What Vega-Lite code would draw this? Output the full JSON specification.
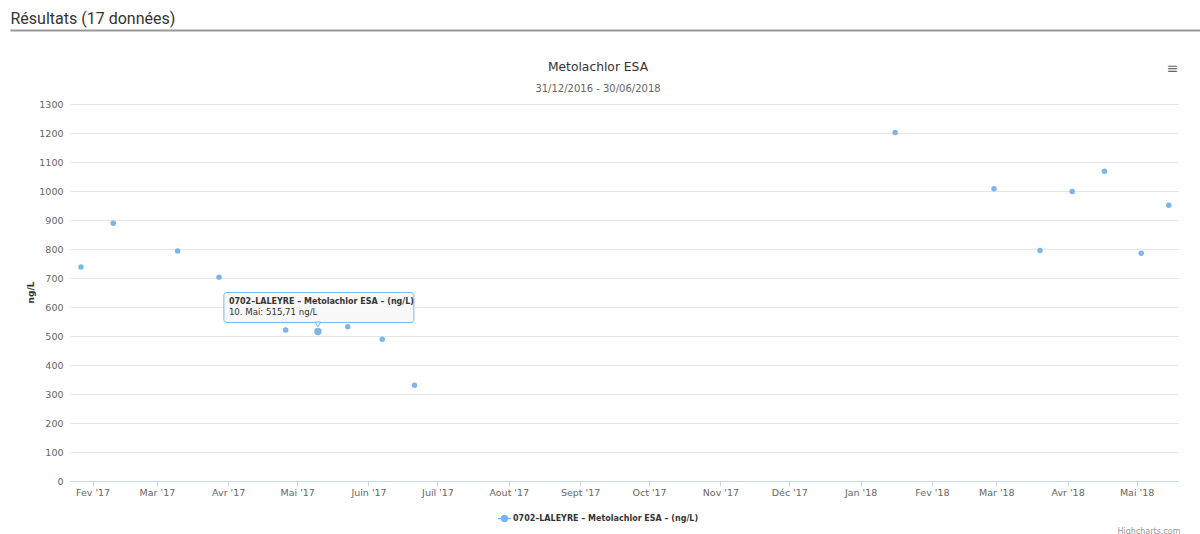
{
  "$schema": "https://vega.github.io/schema/vega-lite/v6.json",
  "width": 1108,
  "height": 377,
  "autosize": {"type": "none"},
  "padding": {"left": 70, "top": 104, "right": 22, "bottom": 53},
  "background": "white",
  "config": {"view": {"stroke": null}, "font": "DejaVu Sans"},
  "title": {
    "text": "Metolachlor ESA",
    "subtitle": "31/12/2016 - 30/06/2018",
    "anchor": "middle",
    "frame": "group",
    "dx": -26,
    "dy": 88,
    "font": "DejaVu Sans",
    "fontSize": 12.3,
    "fontWeight": "normal",
    "color": "#333333",
    "subtitleFont": "DejaVu Sans",
    "subtitleFontSize": 10,
    "subtitleColor": "#666666",
    "subtitlePadding": 11
  },
  "datasets": {
    "pts": [
      {"date": "2017-01-27", "value": 738},
      {"date": "2017-02-10", "value": 889},
      {"date": "2017-03-10", "value": 793},
      {"date": "2017-03-28", "value": 703},
      {"date": "2017-04-12", "value": 600},
      {"date": "2017-04-26", "value": 521},
      {"date": "2017-05-10", "value": 515.71},
      {"date": "2017-05-23", "value": 532},
      {"date": "2017-06-07", "value": 489},
      {"date": "2017-06-21", "value": 330},
      {"date": "2018-01-16", "value": 1202},
      {"date": "2018-02-28", "value": 1008},
      {"date": "2018-03-20", "value": 795},
      {"date": "2018-04-03", "value": 998},
      {"date": "2018-04-17", "value": 1068},
      {"date": "2018-05-03", "value": 785},
      {"date": "2018-05-15", "value": 951}
    ]
  },
  "data": {"name": "pts"},
  "layer": [
    {
      "encoding": {
        "x": {
          "field": "date",
          "type": "temporal",
          "scale": {
            "type": "utc",
            "domain": [
              {"year": 2017, "month": 1, "date": 22, "hours": 5, "utc": true},
              {"year": 2018, "month": 5, "date": 19, "utc": true}
            ]
          },
          "axis": {
            "orient": "bottom",
            "tickCount": {"interval": "month", "step": 1},
            "labelExpr": "['Jan','Fev','Mar','Avr','Mai','Juin','Juil','Aout','Sept','Oct','Nov','Déc'][utcmonth(datum.value)] + \" '\" + utcFormat(datum.value, '%y')",
            "grid": false,
            "domainColor": "#ccd6eb",
            "tickColor": "#ccd6eb",
            "tickSize": 5,
            "labelPadding": 1,
            "labelColor": "#666666",
            "labelFont": "DejaVu Sans",
            "labelFontSize": 9.5,
            "labelFlush": false,
            "labelOverlap": false,
            "title": "Highcharts.com",
            "titleX": 1110,
            "titleY": 50,
            "titleAlign": "right",
            "titleBaseline": "middle",
            "titleFont": "DejaVu Sans",
            "titleFontSize": 8,
            "titleFontWeight": "normal",
            "titleColor": "#999999"
          }
        },
        "y": {
          "field": "value",
          "type": "quantitative",
          "scale": {"domain": [0, 1300], "nice": false, "zero": true},
          "axis": {
            "orient": "left",
            "values": [0, 100, 200, 300, 400, 500, 600, 700, 800, 900, 1000, 1100, 1200, 1300],
            "tickCount": 30,
            "format": "d",
            "labelOverlap": false,
            "grid": true,
            "gridColor": "#e6e6e6",
            "domain": false,
            "ticks": false,
            "labelColor": "#666666",
            "labelFont": "DejaVu Sans",
            "labelFontSize": 9.5,
            "labelPadding": 7,
            "title": "ng/L",
            "titleX": -40,
            "titleY": 188,
            "titleAngle": -90,
            "titleAlign": "center",
            "titleBaseline": "middle",
            "titleFont": "DejaVu Sans",
            "titleFontSize": 9,
            "titleFontWeight": "bold",
            "titleColor": "#333333"
          }
        }
      },
      "layer": [
        {
          "mark": {"type": "circle", "size": 30, "opacity": 1},
          "encoding": {
            "color": {
              "datum": "0702–LALEYRE – Metolachlor ESA – (ng/L)",
              "type": "nominal",
              "scale": {"range": ["#7cb5ec"]},
              "legend": {
                "orient": "none",
                "legendX": 427,
                "legendY": 407,
                "title": null,
                "direction": "horizontal",
                "labelFont": "DejaVu Sans",
                "labelFontSize": 8,
                "labelFontWeight": "bold",
                "labelColor": "#333333",
                "labelOffset": 1,
                "labelLimit": 0,
                "symbolType": "M-1,0L1,0M0.45,0A0.45,0.45,0,1,1,-0.45,0A0.45,0.45,0,1,1,0.45,0Z",
                "symbolSize": 169,
                "symbolStrokeColor": "#7cb5ec",
                "symbolStrokeWidth": 1.5,
                "symbolFillColor": "#7cb5ec"
              }
            }
          }
        },
        {
          "transform": [{"filter": "datum.value == 515.71"}],
          "mark": {"type": "circle", "size": 55, "opacity": 1, "color": "#7cb5ec"}
        },
        {
          "transform": [{"filter": "datum.value == 515.71"}],
          "mark": {
            "type": "rect",
            "xOffset": -94,
            "x2Offset": 96,
            "yOffset": -39,
            "y2Offset": -9,
            "fill": "#f7f7f7",
            "fillOpacity": 0.88,
            "stroke": "#7cb5ec",
            "strokeWidth": 1,
            "cornerRadius": 3
          },
          "encoding": {
            "x2": {"field": "date"},
            "y2": {"field": "value"}
          }
        },
        {
          "transform": [{"filter": "datum.value == 515.71"}],
          "mark": {
            "type": "point",
            "shape": "triangle-down",
            "size": 30,
            "filled": true,
            "fill": "#f7f7f7",
            "stroke": "#7cb5ec",
            "strokeWidth": 1,
            "opacity": 1,
            "yOffset": -7
          }
        },
        {
          "transform": [{"filter": "datum.value == 515.71"}],
          "mark": {
            "type": "text",
            "text": "0702–LALEYRE – Metolachlor ESA – (ng/L)",
            "align": "left",
            "baseline": "alphabetic",
            "dx": -89,
            "dy": -27,
            "font": "DejaVu Sans",
            "fontSize": 8,
            "fontWeight": "bold",
            "color": "#333333"
          }
        },
        {
          "transform": [{"filter": "datum.value == 515.71"}],
          "mark": {
            "type": "text",
            "text": "10. Mai: 515,71 ng/L",
            "align": "left",
            "baseline": "alphabetic",
            "dx": -89,
            "dy": -16,
            "font": "DejaVu Sans",
            "fontSize": 8.6,
            "fontWeight": "normal",
            "color": "#333333"
          }
        }
      ]
    },
    {
      "mark": {"type": "point", "opacity": 0},
      "encoding": {
        "x": {
          "field": "date",
          "type": "temporal",
          "scale": {"type": "utc", "range": [-60, 1130]},
          "axis": {
            "orient": "top",
            "offset": 74,
            "domainColor": "#999999",
            "domainWidth": 2,
            "ticks": false,
            "labels": false,
            "grid": false,
            "title": "Résultats (17 données)",
            "titleX": -60,
            "titleY": -7,
            "titleAlign": "left",
            "titleBaseline": "alphabetic",
            "titleFont": "Roboto",
            "titleFontSize": 16,
            "titleFontWeight": "normal",
            "titleColor": "#333333"
          }
        },
        "y": {
          "field": "value",
          "type": "quantitative",
          "axis": {
            "orient": "right",
            "domain": false,
            "ticks": false,
            "labels": false,
            "grid": false,
            "title": "≡",
            "titleAngle": 0,
            "titleX": -6,
            "titleY": -36,
            "titleAlign": "center",
            "titleBaseline": "middle",
            "titleFont": "DejaVu Sans",
            "titleFontSize": 14,
            "titleFontWeight": "normal",
            "titleColor": "#666666"
          }
        }
      }
    }
  ],
  "resolve": {
    "scale": {"x": "independent", "y": "independent"},
    "axis": {"x": "independent", "y": "independent"}
  }
}
